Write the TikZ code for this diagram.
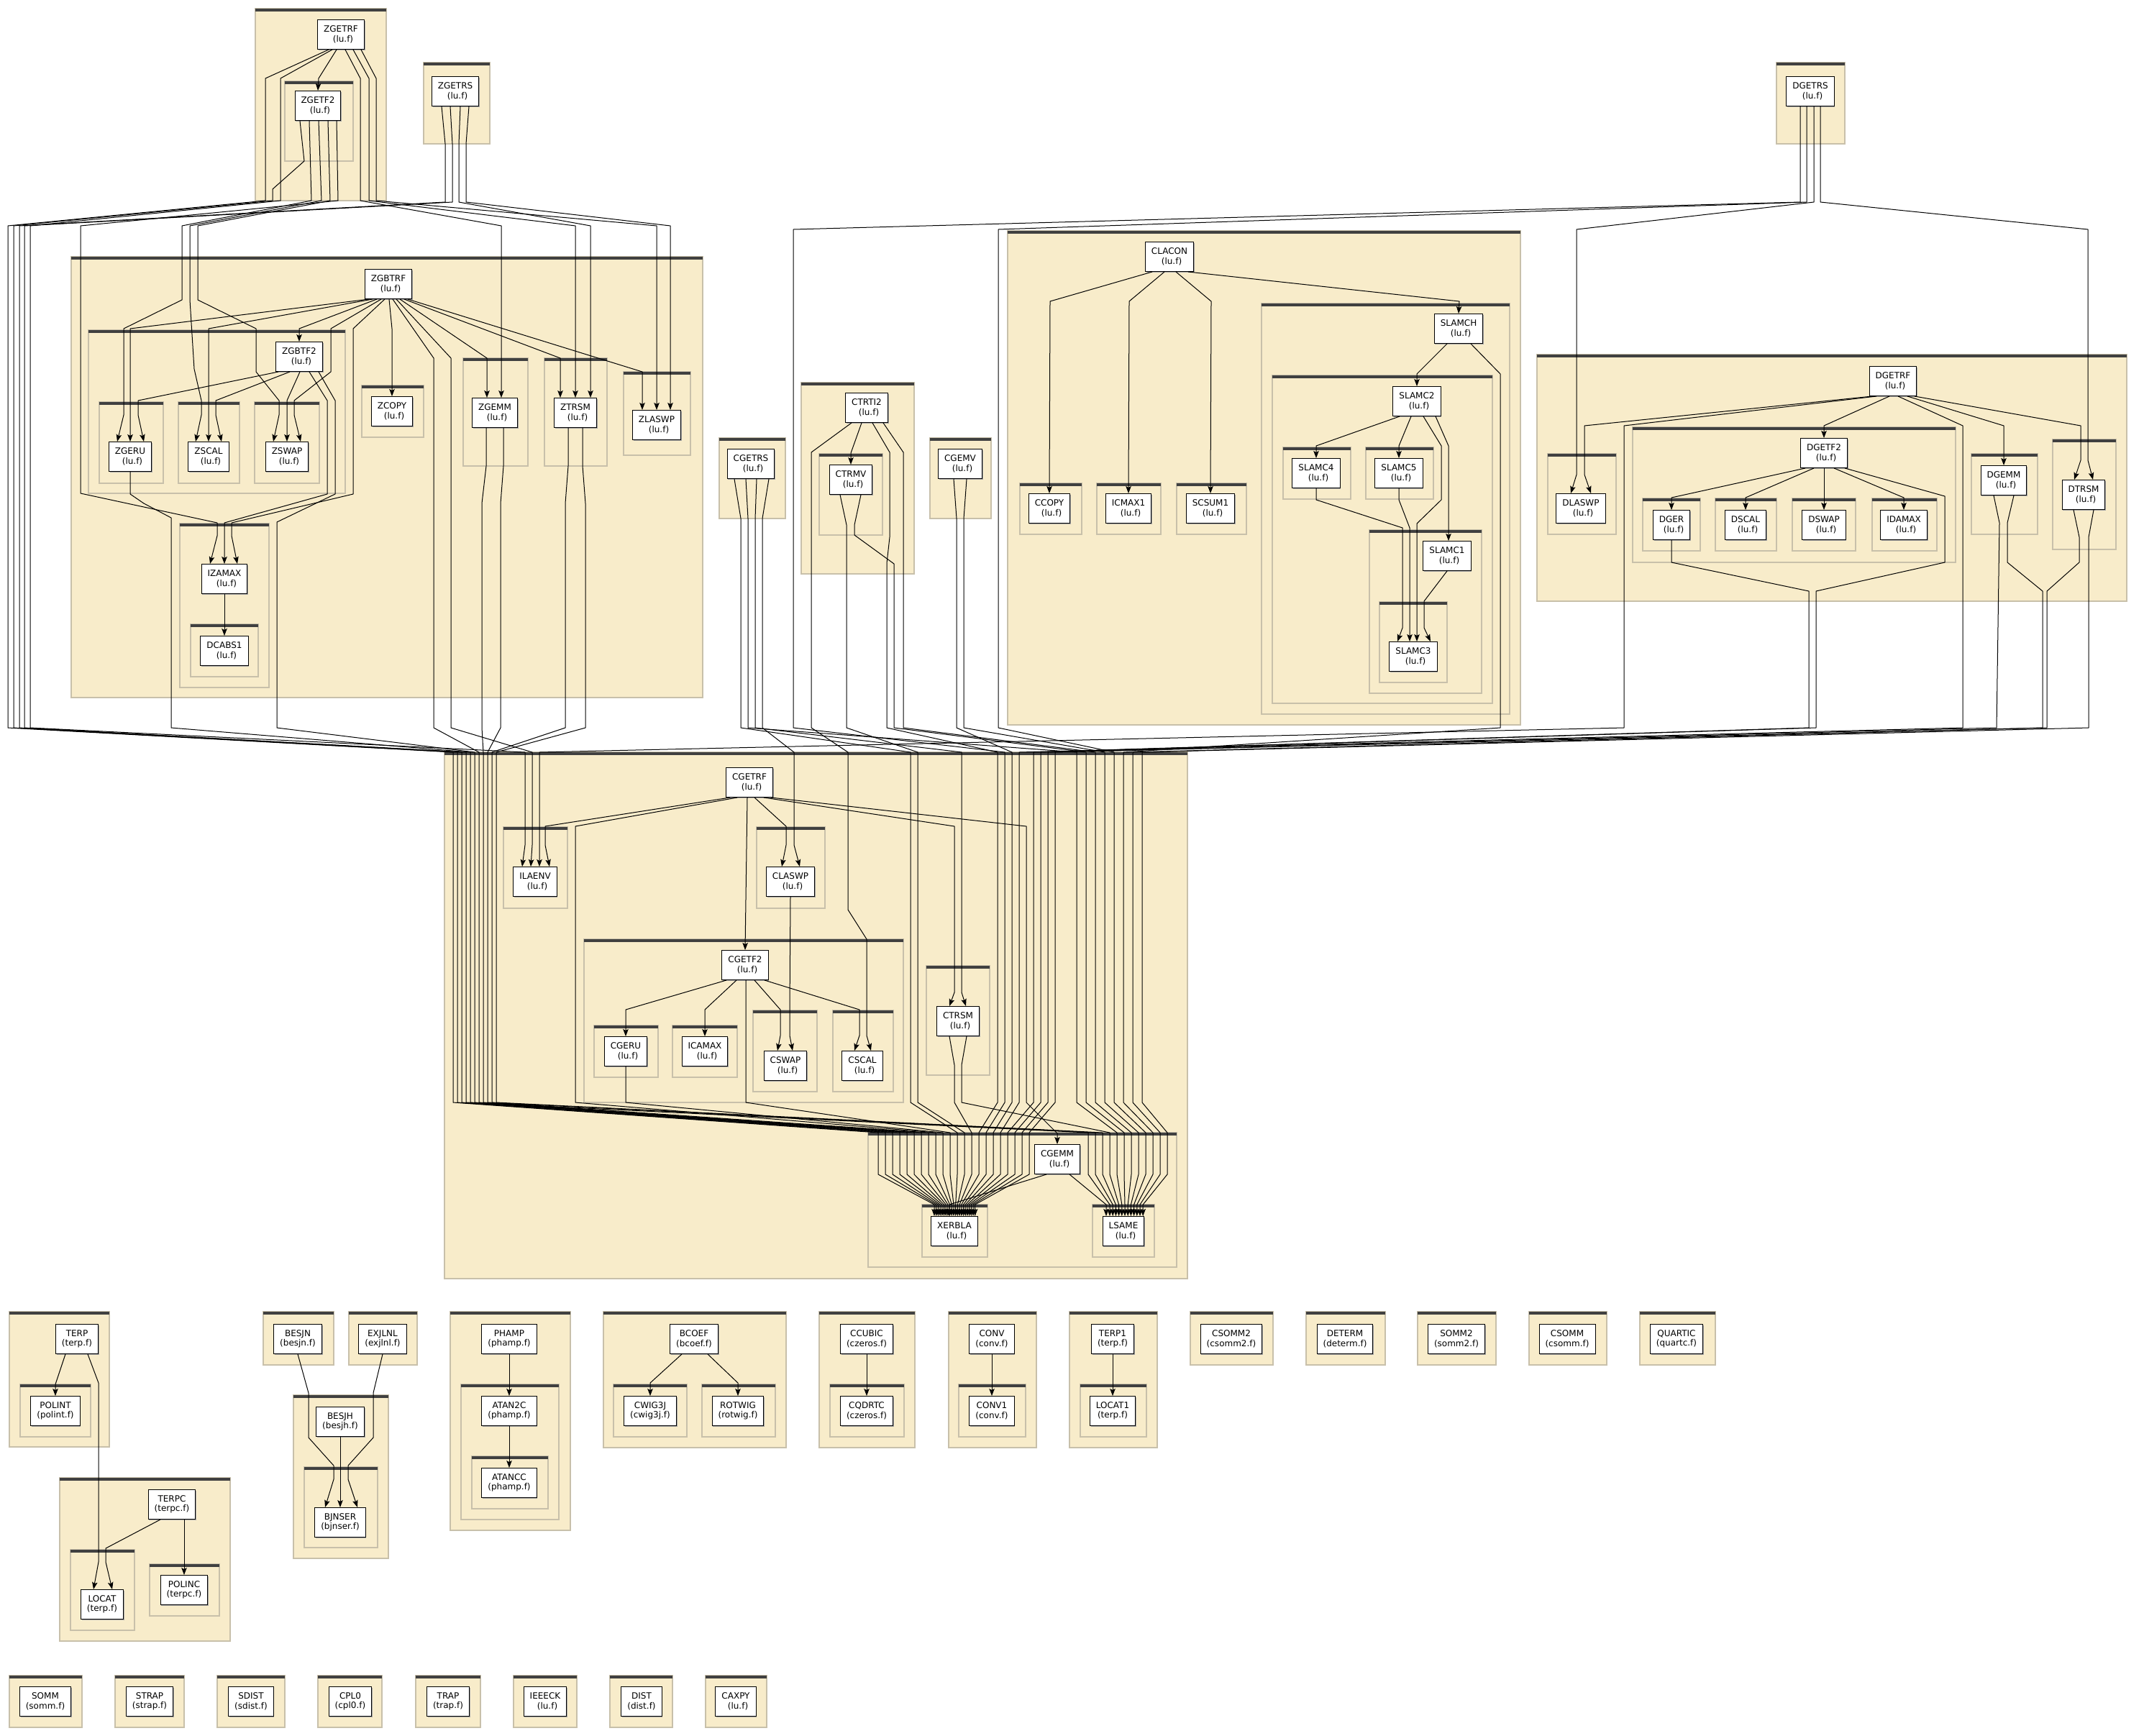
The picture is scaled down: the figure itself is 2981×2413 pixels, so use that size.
\documentclass[tikz,border=0pt]{standalone}
\usepackage{fontspec}
\setmainfont{DejaVu Sans}
\usetikzlibrary{arrows.meta, shadows}

\definecolor{clusterbg}{RGB}{248,236,202}
\definecolor{clusteredge}{RGB}{200,192,170}
\definecolor{clusterbar}{RGB}{64,64,64}

\newcommand{\lufile}[1]{#1\\\hspace*{0.5em}(lu.f)}
% one subgraph: filled box, rim and the dark bar on top
\newcommand{\clusterbox}[4]{%
  \fill[clusterbg] (#1,#2) rectangle (#3,#4);
  \draw[clusteredge, line width=1.2pt] (#1,#2) rectangle (#3,#4);
  \draw[clusterbar, line width=3.5pt] (#1,#2+1.75) -- (#3,#2+1.75);}
% last legs into XERBLA and LSAME, one lane per caller
\newcommand{\toxerbla}[1]{-- (1221+10*#1,1575) -- (1221+10*#1,1633)
  -- ([xshift={(2.7*#1-28)*1pt}, yshift=16pt]xerbla.north) -- ([xshift={(2.7*#1-28)*1pt}]xerbla.north)}
\newcommand{\tolsame}[1]{-- (1513+10*#1,1575) -- (1513+10*#1,1633)
  -- ([xshift={(4.2*#1-19)*1pt}, yshift=16pt]lsame.north) -- ([xshift={(4.2*#1-19)*1pt}]lsame.north)}

\begin{document}
\begin{tikzpicture}[
    x=1pt, y=-1pt,
    fn/.style={rectangle, draw=black, fill=white, line width=1pt,
      minimum width=50pt, minimum height=41pt, inner xsep=8.5pt, inner ysep=3pt,
      align=center, font=\fontsize{12}{13.5}\selectfont,
      drop shadow={shadow xshift=1.2pt, shadow yshift=-1.2pt, fill=black!35, opacity=1}},
    call/.style={-{Stealth[length=10pt, width=7.5pt, inset=2pt]}, line width=1pt, line join=round}
  ]
  \fill[white] (0,0) rectangle (2981,2413);
  \useasboundingbox (0,0) rectangle (2981,2413);

  % subgraphs, outer ones first
  \clusterbox{355}{12}{537}{279}
  \clusterbox{396}{113}{491}{224}
  \clusterbox{589}{87}{681}{200}
  \clusterbox{2470}{87}{2565}{200}
  \clusterbox{99}{357}{977}{970}
  \clusterbox{123}{459}{480}{686}
  \clusterbox{138}{559}{227}{672}
  \clusterbox{248}{559}{333}{672}
  \clusterbox{354}{559}{444}{672}
  \clusterbox{503}{536}{589}{608}
  \clusterbox{644}{498}{734}{648}
  \clusterbox{757}{498}{844}{648}
  \clusterbox{867}{517}{960}{633}
  \clusterbox{250}{728}{374}{956}
  \clusterbox{265}{868}{359}{941}
  \clusterbox{1000}{609}{1092}{721}
  \clusterbox{1114}{532}{1271}{798}
  \clusterbox{1139}{631}{1227}{744}
  \clusterbox{1293}{609}{1378}{721}
  \clusterbox{1401}{321}{2114}{1008}
  \clusterbox{1418}{672}{1504}{743}
  \clusterbox{1525}{672}{1614}{743}
  \clusterbox{1636}{672}{1733}{743}
  \clusterbox{1754}{422}{2099}{993}
  \clusterbox{1769}{522}{2075}{978}
  \clusterbox{1784}{622}{1878}{694}
  \clusterbox{1899}{622}{1993}{694}
  \clusterbox{1904}{737}{2060}{964}
  \clusterbox{1918}{837}{2012}{949}
  \clusterbox{2137}{493}{2957}{836}
  \clusterbox{2152}{631}{2247}{743}
  \clusterbox{2270}{594}{2719}{782}
  \clusterbox{2284}{693}{2364}{766}
  \clusterbox{2385}{693}{2470}{766}
  \clusterbox{2492}{693}{2580}{766}
  \clusterbox{2603}{693}{2693}{766}
  \clusterbox{2741}{631}{2833}{743}
  \clusterbox{2854}{611}{2942}{764}
  \clusterbox{618}{1046}{1651}{1778}
  \clusterbox{700}{1150}{789}{1263}
  \clusterbox{1052}{1150}{1147}{1263}
  \clusterbox{812}{1306}{1256}{1533}
  \clusterbox{826}{1426}{915}{1498}
  \clusterbox{935}{1426}{1025}{1498}
  \clusterbox{1047}{1405}{1136}{1518}
  \clusterbox{1158}{1405}{1242}{1518}
  \clusterbox{1288}{1343}{1376}{1495}
  \clusterbox{1207}{1575}{1636}{1762}
  \clusterbox{1282}{1675}{1373}{1748}
  \clusterbox{1519}{1675}{1605}{1748}
  \clusterbox{13}{1824}{152}{2012}
  \clusterbox{28}{1925}{126}{1998}
  \clusterbox{83}{2055}{320}{2282}
  \clusterbox{98}{2155}{187}{2267}
  \clusterbox{208}{2175}{305}{2247}
  \clusterbox{366}{1824}{464}{1898}
  \clusterbox{485}{1824}{580}{1898}
  \clusterbox{408}{1940}{540}{2167}
  \clusterbox{423}{2040}{525}{2152}
  \clusterbox{626}{1824}{793}{2128}
  \clusterbox{641}{1925}{777}{2113}
  \clusterbox{656}{2025}{762}{2098}
  \clusterbox{839}{1824}{1093}{2013}
  \clusterbox{853}{1925}{955}{1998}
  \clusterbox{976}{1925}{1078}{1998}
  \clusterbox{1139}{1824}{1272}{2013}
  \clusterbox{1154}{1925}{1257}{1998}
  \clusterbox{1319}{1824}{1441}{2013}
  \clusterbox{1333}{1925}{1426}{1998}
  \clusterbox{1487}{1824}{1609}{2013}
  \clusterbox{1502}{1925}{1594}{1998}
  \clusterbox{1655}{1824}{1770}{1898}
  \clusterbox{1816}{1824}{1926}{1898}
  \clusterbox{1971}{1824}{2080}{1898}
  \clusterbox{2126}{1824}{2234}{1898}
  \clusterbox{2280}{1824}{2385}{1898}
  \clusterbox{13}{2330}{114}{2402}
  \clusterbox{160}{2330}{256}{2402}
  \clusterbox{302}{2330}{396}{2402}
  \clusterbox{442}{2330}{531}{2402}
  \clusterbox{578}{2330}{668}{2402}
  \clusterbox{714}{2330}{802}{2402}
  \clusterbox{848}{2330}{935}{2402}
  \clusterbox{981}{2330}{1066}{2402}

  % routines
  \node[fn] (zgetrf) at (474,48)   {\lufile{ZGETRF}};
  \node[fn] (zgetf2) at (442,147)  {\lufile{ZGETF2}};
  \node[fn] (zgetrs) at (633,127)  {\lufile{ZGETRS}};
  \node[fn] (dgetrs) at (2517,127) {\lufile{DGETRS}};
  \node[fn] (zgbtrf) at (540,395)  {\lufile{ZGBTRF}};
  \node[fn] (zgbtf2) at (416,496)  {\lufile{ZGBTF2}};
  \node[fn] (zgeru)  at (181,635)  {\lufile{ZGERU}};
  \node[fn] (zscal)  at (290,635)  {\lufile{ZSCAL}};
  \node[fn] (zswap)  at (399,635)  {\lufile{ZSWAP}};
  \node[fn] (zcopy)  at (545,572)  {\lufile{ZCOPY}};
  \node[fn] (zgemm)  at (688,574)  {\lufile{ZGEMM}};
  \node[fn] (ztrsm)  at (800,574)  {\lufile{ZTRSM}};
  \node[fn] (zlaswp) at (913,591)  {\lufile{ZLASWP}};
  \node[fn] (izamax) at (312,805)  {\lufile{IZAMAX}};
  \node[fn] (dcabs1) at (312,905)  {\lufile{DCABS1}};
  \node[fn] (cgetrs) at (1044,645) {\lufile{CGETRS}};
  \node[fn] (ctrti2) at (1205,567) {\lufile{CTRTI2}};
  \node[fn] (ctrmv)  at (1183,667) {\lufile{CTRMV}};
  \node[fn] (cgemv)  at (1335,645) {\lufile{CGEMV}};
  \node[fn] (clacon) at (1626,357) {\lufile{CLACON}};
  \node[fn] (ccopy)  at (1459,707) {\lufile{CCOPY}};
  \node[fn] (icmax1) at (1569,707) {\lufile{ICMAX1}};
  \node[fn] (scsum1) at (1683,707) {\lufile{SCSUM1}};
  \node[fn] (slamch) at (2028,457) {\lufile{SLAMCH}};
  \node[fn] (slamc2) at (1970,558) {\lufile{SLAMC2}};
  \node[fn] (slamc4) at (1830,658) {\lufile{SLAMC4}};
  \node[fn] (slamc5) at (1945,658) {\lufile{SLAMC5}};
  \node[fn] (slamc1) at (2012,773) {\lufile{SLAMC1}};
  \node[fn] (slamc3) at (1965,913) {\lufile{SLAMC3}};
  \node[fn] (dgetrf) at (2632,530) {\lufile{DGETRF}};
  \node[fn] (dlaswp) at (2198,707) {\lufile{DLASWP}};
  \node[fn] (dgetf2) at (2536,630) {\lufile{DGETF2}};
  \node[fn] (dger)   at (2324,730) {\lufile{DGER}};
  \node[fn] (dscal)  at (2427,730) {\lufile{DSCAL}};
  \node[fn] (dswap)  at (2536,730) {\lufile{DSWAP}};
  \node[fn] (idamax) at (2647,730) {\lufile{IDAMAX}};
  \node[fn] (dgemm)  at (2786,668) {\lufile{DGEMM}};
  \node[fn] (dtrsm)  at (2897,688) {\lufile{DTRSM}};
  \node[fn] (cgetrf) at (1042,1088) {\lufile{CGETRF}};
  \node[fn] (ilaenv) at (744,1226)  {\lufile{ILAENV}};
  \node[fn] (claswp) at (1099,1226) {\lufile{CLASWP}};
  \node[fn] (cgetf2) at (1036,1342) {\lufile{CGETF2}};
  \node[fn] (cgeru)  at (870,1462)  {\lufile{CGERU}};
  \node[fn] (icamax) at (980,1462)  {\lufile{ICAMAX}};
  \node[fn] (cswap)  at (1092,1482) {\lufile{CSWAP}};
  \node[fn] (cscal)  at (1199,1482) {\lufile{CSCAL}};
  \node[fn] (ctrsm)  at (1332,1420) {\lufile{CTRSM}};
  \node[fn] (cgemm)  at (1470,1612) {\lufile{CGEMM}};
  \node[fn] (xerbla) at (1327,1712) {\lufile{XERBLA}};
  \node[fn] (lsame)  at (1562,1712) {\lufile{LSAME}};

  \node[fn] (terp)    at (107,1862)  {TERP\\(terp.f)};
  \node[fn] (polint)  at (77,1962)   {POLINT\\(polint.f)};
  \node[fn] (terpc)   at (239,2092)  {TERPC\\(terpc.f)};
  \node[fn] (locat)   at (142,2231)  {LOCAT\\(terp.f)};
  \node[fn] (polinc)  at (256,2211)  {POLINC\\(terpc.f)};
  \node[fn] (besjn)   at (414,1862)  {BESJN\\(besjn.f)};
  \node[fn] (exjlnl)  at (532,1862)  {EXJLNL\\(exjlnl.f)};
  \node[fn] (besjh)   at (473,1977)  {BESJH\\(besjh.f)};
  \node[fn] (bjnser)  at (473,2117)  {BJNSER\\(bjnser.f)};
  \node[fn] (phamp)   at (708,1862)  {PHAMP\\(phamp.f)};
  \node[fn] (atan2c)  at (708,1962)  {ATAN2C\\(phamp.f)};
  \node[fn] (atancc)  at (708,2062)  {ATANCC\\(phamp.f)};
  \node[fn] (bcoef)   at (965,1862)  {BCOEF\\(bcoef.f)};
  \node[fn] (cwig3j)  at (904,1962)  {CWIG3J\\(cwig3j.f)};
  \node[fn] (rotwig)  at (1026,1962) {ROTWIG\\(rotwig.f)};
  \node[fn] (ccubic)  at (1205,1862) {CCUBIC\\(czeros.f)};
  \node[fn] (cqdrtc)  at (1205,1962) {CQDRTC\\(czeros.f)};
  \node[fn] (conv)    at (1379,1862) {CONV\\(conv.f)};
  \node[fn] (conv1)   at (1379,1962) {CONV1\\(conv.f)};
  \node[fn] (terp1)   at (1547,1862) {TERP1\\(terp.f)};
  \node[fn] (locat1)  at (1547,1962) {LOCAT1\\(terp.f)};
  \node[fn] (csomm2)  at (1712,1862) {CSOMM2\\(csomm2.f)};
  \node[fn] (determ)  at (1870,1862) {DETERM\\(determ.f)};
  \node[fn] (somm2)   at (2025,1862) {SOMM2\\(somm2.f)};
  \node[fn] (csomm)   at (2179,1862) {CSOMM\\(csomm.f)};
  \node[fn] (quartic) at (2331,1862) {QUARTIC\\(quartc.f)};
  \node[fn] (somm)    at (63,2366)   {SOMM\\(somm.f)};
  \node[fn] (strap)   at (208,2366)  {STRAP\\(strap.f)};
  \node[fn] (sdist)   at (349,2366)  {SDIST\\(sdist.f)};
  \node[fn] (cpl0)    at (487,2366)  {CPL0\\(cpl0.f)};
  \node[fn] (trap)    at (623,2366)  {TRAP\\(trap.f)};
  \node[fn] (ieeeck)  at (758,2366)  {\lufile{IEEECK}};
  \node[fn] (dist)    at (892,2366)  {DIST\\(dist.f)};
  \node[fn] (caxpy)   at (1023,2366) {\lufile{CAXPY}};

  % ZGETRF, ZGETF2, ZGETRS
  \draw[call] ([xshift=-6pt]zgetrf.south) -- (443,109) -- (zgetf2.north);
  \draw[call] ([xshift=-17pt]zgetrf.south) -- (369,109) -- (369,279) -- (11,314) -- (11,1012) -- (630,1046) -- (630,1533) \toxerbla{0};
  \draw[call] ([xshift=-12pt]zgetrf.south) -- (390,109) -- (390,279) -- (42,314) -- (42,1012) -- (730,1046) -- (730,1175) -- ([xshift=-18pt]ilaenv.north);
  \draw[call] ([xshift=6pt]zgetrf.south) -- (501,109) -- (501,279) -- (697,314) -- (697,530) -- ([xshift=9pt]zgemm.north);
  \draw[call] ([xshift=17pt]zgetrf.south) -- (513,109) -- (513,279) -- (800,314) -- (ztrsm.north);
  \draw[call] ([xshift=28pt]zgetrf.south) -- (523,109) -- (523,279) -- (913,314) -- (zlaswp.north);
  \draw[call] ([xshift=-25pt]zgetf2.south) -- (423,224) -- (379,263) -- (379,279) -- (19,314) -- (19,1012) -- (636,1046) -- (636,1533) \toxerbla{1};
  \draw[call] ([xshift=-12pt]zgetf2.south) -- (433,279) -- (253,314) -- (253,417) -- (172,457) -- (172,577) -- ([xshift=-18pt]zgeru.north);
  \draw[call] ([xshift=1pt]zgetf2.south) -- (447,279) -- (264,314) -- (264,417) -- (270,513) -- (280,557) -- (280,577) -- ([xshift=-18pt]zscal.north);
  \draw[call] ([xshift=14pt]zgetf2.south) -- (459,279) -- (275,314) -- (275,417) -- (356,457) -- (356,517) -- (388,557) -- (388,577) -- ([xshift=-19pt]zswap.north);
  \draw[call] ([xshift=26pt]zgetf2.south) -- (470,279) -- (112,314) -- (112,686) -- (302,727) -- (302,745) -- ([xshift=-20pt]izamax.north);
  \draw[call] ([xshift=-19pt]zgetrs.south) -- (619,200) -- (619,281) -- (27,314) -- (27,1012) -- (642,1046) -- (642,1533) \toxerbla{2};
  \draw[call] ([xshift=-7pt]zgetrs.south) -- (629,200) -- (629,281) -- (34,314) -- (34,1012) -- (648,1046) -- (648,1533) \tolsame{0};
  \draw[call] ([xshift=7pt]zgetrs.south) -- (638,200) -- (638,281) -- (821,314) -- (821,530) -- ([xshift=21pt]ztrsm.north);
  \draw[call] ([xshift=19pt]zgetrs.south) -- (648,200) -- (648,281) -- (932,314) -- (932,550) -- ([xshift=19pt]zlaswp.north);

  % ZGBTRF
  \draw[call] ([xshift=-27pt]zgbtrf.south) -- (181,457) -- (zgeru.north);
  \draw[call] ([xshift=-22pt]zgbtrf.south) -- (290,457) -- (zscal.north);
  \draw[call] ([xshift=-16pt]zgbtrf.south) -- (416,457) -- (zgbtf2.north);
  \draw[call] ([xshift=-10pt]zgbtrf.south) -- (460,457) -- (460,517) -- (409,557) -- (409,577) -- ([xshift=19pt]zswap.north);
  \draw[call] ([xshift=-5pt]zgbtrf.south) -- (491,457) -- (491,687) -- (322,727) -- (322,745) -- ([xshift=18pt]izamax.north);
  \draw[call] ([xshift=1pt]zgbtrf.south) -- (545,457) -- (zcopy.north);
  \draw[call] ([xshift=6pt]zgbtrf.south) -- (603,498) -- (603,1012) -- (666,1046) -- (666,1533) \toxerbla{5};
  \draw[call] ([xshift=11pt]zgbtrf.south) -- (627,498) -- (627,1012) -- (740,1046) -- (740,1175) -- ([xshift=-6pt]ilaenv.north);
  \draw[call] ([xshift=16pt]zgbtrf.south) -- (677,498) -- (677,530) -- ([xshift=-11pt]zgemm.north);
  \draw[call] ([xshift=22pt]zgbtrf.south) -- (779,498) -- (779,530) -- ([xshift=-21pt]ztrsm.north);
  \draw[call] ([xshift=27pt]zgbtrf.south) -- (893,517) -- (893,550) -- ([xshift=-20pt]zlaswp.north);
  \draw[call] ([xshift=-29pt]zgbtf2.south) -- (192,557) -- (192,577) -- ([xshift=19pt]zgeru.north);
  \draw[call] ([xshift=-13pt]zgbtf2.south) -- (300,557) -- (300,577) -- ([xshift=18pt]zscal.north);
  \draw[call] ([xshift=1pt]zgbtf2.south) -- (399,557) -- (zswap.north);
  \draw[call] ([xshift=14pt]zgbtf2.south) -- (455,557) -- (455,687) -- (312,727) -- (izamax.north);
  \draw[call] ([xshift=27pt]zgbtf2.south) -- (466,557) -- (466,687) -- (385,726) -- (385,1012) -- (660,1046) -- (660,1533) \toxerbla{4};
  \draw[call] (zgeru.south) -- (181,687) -- (200,700) -- (238,720) -- (238,1012) -- (654,1046) -- (654,1533) \toxerbla{3};
  \draw[call] (izamax) -- (dcabs1);
  \draw[call] ([xshift=-12pt]zgemm.south) -- (676,648) -- (670,700) -- (670,1012) -- (672,1046) -- (672,1533) \toxerbla{6};
  \draw[call] ([xshift=12pt]zgemm.south) -- (700,648) -- (696,700) -- (696,1012) -- (678,1046) -- (678,1533) \tolsame{1};
  \draw[call] ([xshift=-10pt]ztrsm.south) -- (790,648) -- (786,700) -- (786,1012) -- (684,1046) -- (684,1533) \toxerbla{7};
  \draw[call] ([xshift=10pt]ztrsm.south) -- (810,648) -- (814,700) -- (814,1012) -- (690,1046) -- (690,1533) \tolsame{2};

  % CGETRS, CTRTI2, CTRMV, CGEMV
  \draw[call] ([xshift=-23pt]cgetrs.south) -- (1030,721) -- (1030,1012) -- (1266,1046) -- (1266,1533) \toxerbla{11};
  \draw[call] ([xshift=-7pt]cgetrs.south) -- (1040,721) -- (1040,1012) -- (1497,1046) -- (1497,1533) \tolsame{4};
  \draw[call] ([xshift=8pt]cgetrs.south) -- (1050,721) -- (1050,1012) -- (1337,1046) -- (1337,1380) -- ([xshift=11pt]ctrsm.north);
  \draw[call] ([xshift=25pt]cgetrs.south) -- (1060,721) -- (1060,1012) -- (1104,1046) -- (1104,1175) -- ([xshift=13pt]claswp.north);
  \draw[call] ([xshift=-21pt]ctrti2.south) -- (1128,629) -- (1128,1012) -- (1179,1046) -- (1179,1265) -- (1205,1306) -- (1205,1440) -- ([xshift=12pt]cscal.north);
  \draw[call] ([xshift=-7pt]ctrti2.south) -- (1183,630) -- (ctrmv.north);
  \draw[call] ([xshift=8pt]ctrti2.south) -- (1237,629) -- (1237,747) -- (1233,783) -- (1233,1012) -- (1387,1046) -- (1387,1533) \toxerbla{14};
  \draw[call] ([xshift=23pt]ctrti2.south) -- (1256,629) -- (1256,1012) -- (1523,1046) -- (1523,1533) \tolsame{6};
  \draw[call] ([xshift=-15pt]ctrmv.south) -- (1177,730) -- (1177,1012) -- (1276,1046) -- (1276,1533) \toxerbla{12};
  \draw[call] ([xshift=14pt]ctrmv.south) -- (1188,730) -- (1188,744) -- (1243,784) -- (1243,1012) -- (1510,1046) -- (1510,1533) \tolsame{5};
  \draw[call] ([xshift=-9pt]cgemv.south) -- (1330,721) -- (1330,1012) -- (1407,1046) -- (1407,1533) \toxerbla{16};
  \draw[call] ([xshift=9pt]cgemv.south) -- (1340,721) -- (1340,1012) -- (1536,1046) -- (1536,1533) \tolsame{7};

  % DGETRS
  \draw[call] ([xshift=-14pt]dgetrs.south) -- (2503,200) -- (2503,281) -- (1103,319) -- (1103,1012) -- (1397,1046) -- (1397,1533) \toxerbla{15};
  \draw[call] ([xshift=-5pt]dgetrs.south) -- (2512,200) -- (2512,281) -- (1388,319) -- (1388,1012) -- (1549,1046) -- (1549,1533) \tolsame{8};
  \draw[call] ([xshift=5pt]dgetrs.south) -- (2522,200) -- (2522,281) -- (2192,319) -- (2192,660) -- ([xshift=-14pt]dlaswp.north);
  \draw[call] ([xshift=14pt]dgetrs.south) -- (2531,200) -- (2531,281) -- (2903,319) -- (2903,640) -- ([xshift=13pt]dtrsm.north);

  % CLACON and the SLAMCx family
  \draw[call] ([xshift=-24pt]clacon.south) -- (1460,419) -- (ccopy.north);
  \draw[call] ([xshift=-7pt]clacon.south) -- (1570,419) -- (icmax1.north);
  \draw[call] ([xshift=9pt]clacon.south) -- (1684,419) -- (scsum1.north);
  \draw[call] ([xshift=26pt]clacon.south) -- (2029,419) -- (slamch.north);
  \draw[call] ([xshift=-16pt]slamch.south) -- (1970,520) -- (slamc2.north);
  \draw[call] ([xshift=17pt]slamch.south) -- (2086,520) -- (2086,1012) -- (1562,1046) -- (1562,1533) \tolsame{9};
  \draw[call] ([xshift=-24pt]slamc2.south) -- (1830,620) -- (slamc4.north);
  \draw[call] ([xshift=-8pt]slamc2.south) -- (1945,620) -- (slamc5.north);
  \draw[call] ([xshift=9pt]slamc2.south) -- (2004,620) -- (2004,695) -- (1970,728) -- ([xshift=5pt]slamc3.north);
  \draw[call] ([xshift=26pt]slamc2.south) -- (2014,620) -- ([xshift=2pt]slamc1.north);
  \draw[call] (slamc4.south) -- (1830,695) -- (1950,734) -- (1950,873) -- ([xshift=-22pt]slamc3.north);
  \draw[call] (slamc5.south) -- (1945,695) -- (1960,734) -- ([xshift=-5pt]slamc3.north);
  \draw[call] (slamc1.south) -- (1980,836) -- (1980,873) -- ([xshift=24pt]slamc3.north);

  % DGETRF, DGETF2
  \draw[call] ([xshift=-29pt]dgetrf.south) -- (2203,592) -- (2203,660) -- ([xshift=14pt]dlaswp.north);
  \draw[call] ([xshift=-23pt]dgetrf.south) -- (2258,592) -- (2258,1012) -- (750,1046) -- (750,1175) -- ([xshift=6pt]ilaenv.north);
  \draw[call] ([xshift=-5pt]dgetrf.south) -- (2536,592) -- (dgetf2.north);
  \draw[call] ([xshift=7pt]dgetrf.south) -- (2729,592) -- (2729,1012) -- (1417,1046) -- (1417,1533) \toxerbla{17};
  \draw[call] ([xshift=20pt]dgetrf.south) -- (2786,592) -- (dgemm.north);
  \draw[call] ([xshift=30pt]dgetrf.south) -- (2893,592) -- (2893,640) -- ([xshift=-13pt]dtrsm.north);
  \draw[call] ([xshift=-26pt]dgetf2.south) -- (2324,692) -- (dger.north);
  \draw[call] ([xshift=-14pt]dgetf2.south) -- (2427,692) -- (dscal.north);
  \draw[call] (dgetf2.south) -- (dswap.north);
  \draw[call] ([xshift=14pt]dgetf2.south) -- (2647,692) -- (idamax.north);
  \draw[call] ([xshift=29pt]dgetf2.south) -- (2704,690) -- (2704,782) -- (2525,822) -- (2525,1012) -- (1447,1046) -- (1447,1533) \toxerbla{19};
  \draw[call] (dger.south) -- (2324,782) -- (2515,822) -- (2515,1012) -- (1437,1046) -- (1437,1533) \toxerbla{18};
  \draw[call] ([xshift=-14pt]dgemm.south) -- (2780,727) -- (2776,1012) -- (1457,1046) -- (1457,1533) \toxerbla{20};
  \draw[call] ([xshift=14pt]dgemm.south) -- (2791,727) -- (2791,782) -- (2840,822) -- (2840,1012) -- (1575,1046) -- (1575,1533) \tolsame{10};
  \draw[call] ([xshift=-14pt]dtrsm.south) -- (2891,747) -- (2891,782) -- (2846,822) -- (2846,1012) -- (1467,1046) -- (1467,1533) \toxerbla{21};
  \draw[call] ([xshift=14pt]dtrsm.south) -- (2904,747) -- (2904,1012) -- (1588,1046) -- (1588,1533) \tolsame{11};

  % CGETRF, CGETF2 and the leaves
  \draw[call] ([xshift=-27pt]cgetrf.south) -- (758,1149) -- (758,1175) -- ([xshift=20pt]ilaenv.north);
  \draw[call] ([xshift=-17pt]cgetrf.south) -- (800,1149) -- (800,1533) \toxerbla{8};
  \draw[call] ([xshift=-3pt]cgetrf.south) -- (cgetf2.north);
  \draw[call] ([xshift=7pt]cgetrf.south) -- (1093,1149) -- (1093,1175) -- ([xshift=-12pt]claswp.north);
  \draw[call] ([xshift=20pt]cgetrf.south) -- (1327,1149) -- (1327,1380) -- ([xshift=-12pt]ctrsm.north);
  \draw[call] ([xshift=30pt]cgetrf.south) -- (1427,1149) -- (1427,1533) -- (1470,1576) -- (cgemm.north);
  \draw[call] ([xshift=-26pt]cgetf2.south) -- (870,1404) -- (cgeru.north);
  \draw[call] ([xshift=-12pt]cgetf2.south) -- (980,1404) -- (icamax.north);
  \draw[call] ([xshift=1pt]cgetf2.south) -- (1037,1533) \toxerbla{10};
  \draw[call] ([xshift=13pt]cgetf2.south) -- (1085,1404) -- (1085,1440) -- ([xshift=-11pt]cswap.north);
  \draw[call] ([xshift=27pt]cgetf2.south) -- (1195,1404) -- (1195,1440) -- ([xshift=-11pt]cscal.north);
  \draw[call] (claswp.south) -- (1098,1405) -- (1098,1440) -- ([xshift=10pt]cswap.north);
  \draw[call] (cgeru.south) -- (870,1533) \toxerbla{9};
  \draw[call] ([xshift=-12pt]ctrsm.south) -- (1327,1481) -- (1327,1533) \toxerbla{13};
  \draw[call] ([xshift=12pt]ctrsm.south) -- (1337,1481) -- (1337,1533) \tolsame{3};
  \draw[call] ([xshift=-15pt]cgemm.south) -- ([xshift=-7pt, yshift=16pt]xerbla.north) -- ([xshift=-7pt]xerbla.north);
  \draw[call] ([xshift=17pt]cgemm.south) -- ([xshift=-24pt, yshift=16pt]lsame.north) -- ([xshift=-24pt]lsame.north);

  % the small programs
  \draw[call] ([xshift=-16pt]terp.south) -- (77,1925) -- (polint.north);
  \draw[call] ([xshift=15pt]terp.south) -- (137,1923) -- (137,2172) -- ([xshift=-12pt]locat.north);
  \draw[call] ([xshift=-16pt]terpc.south) -- (147,2153) -- (147,2172) -- ([xshift=14pt]locat.north);
  \draw[call] ([xshift=17pt]terpc.south) -- (polinc.north);
  \draw[call] (besjn.south) -- (429,1937) -- (429,1999) -- (464,2038) -- (464,2057) -- ([xshift=-21pt]bjnser.north);
  \draw[call] (besjh.south) -- (bjnser.north);
  \draw[call] (exjlnl.south) -- (519,1937) -- (519,1999) -- (484,2038) -- (484,2057) -- ([xshift=24pt]bjnser.north);
  \draw[call] (phamp) -- (atan2c);
  \draw[call] (atan2c) -- (atancc);
  \draw[call] ([xshift=-17pt]bcoef.south) -- (904,1923) -- (cwig3j.north);
  \draw[call] ([xshift=19pt]bcoef.south) -- (1026,1923) -- (rotwig.north);
  \draw[call] (ccubic) -- (cqdrtc);
  \draw[call] (conv) -- (conv1);
  \draw[call] (terp1) -- (locat1);
\end{tikzpicture}
\end{document}
